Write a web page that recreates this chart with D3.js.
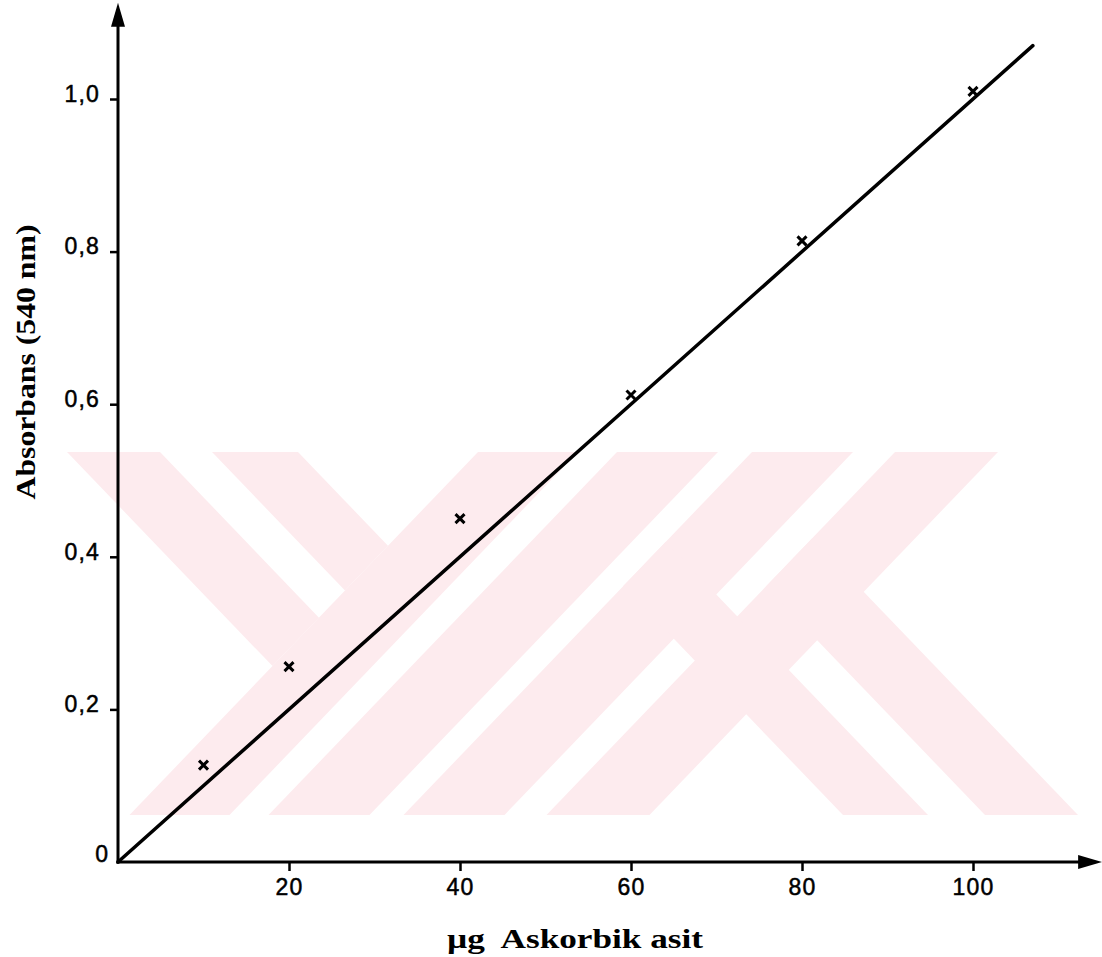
<!DOCTYPE html>
<html>
<head>
<meta charset="utf-8">
<script src="https://cdn.jsdelivr.net/npm/d3@7"></script>
<style>
  html, body { margin: 0; padding: 0; background: #ffffff; }
  svg { display: block; }
</style>
</head>
<body>
<svg id="chart" width="1102" height="957"></svg>
<script>
// ---------------- data ----------------
const xTickValues = [20, 40, 60, 80, 100];
const yTickValues = [0.2, 0.4, 0.6, 0.8, 1.0];
const yTickLabels = ["0,2", "0,4", "0,6", "0,8", "1,0"];
const originLabel = "0";

// measured points (µg ascorbic acid, absorbance at 540 nm)
const pointX = [10, 20, 40, 60, 80, 100];
const pointY = [0.127, 0.256, 0.45, 0.612, 0.814, 1.01];

// calibration line (from origin)
const lineX = [0, 107];
const lineY = [0, 1.07];

const xTitle = "µg  Askorbik asit";
const yTitle = "Absorbans (540 nm)";

const xAxisEnd = 115.1;
const yAxisEnd = 1.126;

// ---------------- layout ----------------
const svg = d3.select("#chart");
const W = 1102, H = 957;
svg.append("rect").attr("width", W).attr("height", H).attr("fill", "#ffffff");

const x = d3.scaleLinear().domain([0, 100]).range([118, 973]);
const y = d3.scaleLinear().domain([0, 1]).range([862, 99]);

// ---------------- background watermark (decorative) ----------------
const wmTop = 452, wmBot = 815, s = 0.96;
const wm = svg.append("g").attr("fill", "#fdebee");
const slashBands = [[478, 578], [617, 718], [752, 853], [895, 998]];
slashBands.forEach(([L, R]) => {
  const d = wmBot - wmTop;
  wm.append("polygon").attr("points",
    [[L, wmTop], [R, wmTop], [R - s * d, wmBot], [L - s * d, wmBot]].map(p => p.join(",")).join(" "));
});
function cutBack(L, R, C) {
  const tR = (C - R) / (2 * s), tL = (C - L) / (2 * s);
  return [[L, wmTop], [R, wmTop], [R + s * tR, wmTop + tR], [L + s * tL, wmTop + tL]];
}
[[67, 160], [212, 298]].forEach(([L, R]) => {
  wm.append("polygon").attr("points", cutBack(L, R, 478).map(p => p.join(",")).join(" "));
});
function cutUp(Lb, Rb, C) {
  const yL = (C + s * wmTop - Lb + s * wmBot) / (2 * s);
  const yR = (C + s * wmTop - Rb + s * wmBot) / (2 * s);
  return [[Lb, wmBot], [Rb, wmBot], [Rb - s * (wmBot - yR), yR], [Lb - s * (wmBot - yL), yL]];
}
wm.append("polygon").attr("points", cutUp(843, 928, 752).map(p => p.join(",")).join(" "));
wm.append("polygon").attr("points", cutUp(985, 1078, 895).map(p => p.join(",")).join(" "));

// ---------------- axes ----------------
const axisColor = "#000";
const g = svg.append("g");

g.append("line")
  .attr("x1", x(0)).attr("x2", x(0))
  .attr("y1", y(0) + 1.5).attr("y2", y(yAxisEnd) + 20)
  .attr("stroke", axisColor).attr("stroke-width", 3);
g.append("path")
  .attr("d", `M${x(0)},${y(yAxisEnd)} L${x(0) - 7},${y(yAxisEnd) + 24} L${x(0) + 7},${y(yAxisEnd) + 24} Z`)
  .attr("fill", axisColor);

g.append("line")
  .attr("x1", x(0) - 1.5).attr("x2", x(xAxisEnd) - 20)
  .attr("y1", y(0)).attr("y2", y(0))
  .attr("stroke", axisColor).attr("stroke-width", 3);
g.append("path")
  .attr("d", `M${x(xAxisEnd)},${y(0)} L${x(xAxisEnd) - 24},${y(0) - 7} L${x(xAxisEnd) - 24},${y(0) + 7} Z`)
  .attr("fill", axisColor);

const tickFont = "'Liberation Sans', Arial, sans-serif";
const tickSize = 23;

const xAxis = d3.axisBottom(x).tickValues(xTickValues).tickSize(9).tickPadding(8).tickFormat(d3.format("d"));
const xg = svg.append("g").attr("transform", `translate(0,${y(0)})`).call(xAxis);
xg.select(".domain").remove();
xg.selectAll(".tick line").attr("stroke", axisColor).attr("stroke-width", 2.5);
xg.selectAll(".tick text")
  .attr("fill", axisColor).attr("font-family", tickFont).attr("font-size", tickSize)
  .attr("letter-spacing", 1.2).attr("stroke", axisColor).attr("stroke-width", 0.5);

const yAxis = d3.axisLeft(y).tickValues(yTickValues).tickSize(8).tickPadding(10)
  .tickFormat((d, i) => yTickLabels[i]);
const yg = svg.append("g").attr("transform", `translate(${x(0)},0)`).call(yAxis);
yg.select(".domain").remove();
yg.selectAll(".tick line").attr("stroke", axisColor).attr("stroke-width", 2.5);
yg.selectAll(".tick text")
  .attr("fill", axisColor).attr("font-family", tickFont).attr("font-size", tickSize)
  .attr("letter-spacing", 1.2).attr("dy", "0.1em")
  .attr("stroke", axisColor).attr("stroke-width", 0.5);

svg.append("text")
  .attr("x", x(0) - 10).attr("y", y(0))
  .attr("text-anchor", "end")
  .attr("font-family", tickFont).attr("font-size", tickSize)
  .attr("fill", axisColor).attr("stroke", axisColor).attr("stroke-width", 0.5)
  .text(originLabel);

// ---------------- calibration line ----------------
const lineData = lineX.map((v, i) => [v, lineY[i]]);
svg.append("path")
  .datum(lineData)
  .attr("d", d3.line().x(d => x(d[0])).y(d => y(d[1])))
  .attr("fill", "none").attr("stroke", "#000").attr("stroke-width", 3.5)
  .attr("stroke-linecap", "round");

// ---------------- points (x markers) ----------------
const pts = pointX.map((v, i) => [v, pointY[i]]);
svg.append("g").selectAll("path.pt")
  .data(pts).join("path")
  .attr("class", "pt")
  .attr("transform", d => `translate(${x(d[0])},${y(d[1])})`)
  .attr("d", "M-4.5,-4.5L4.5,4.5M-4.5,4.5L4.5,-4.5")
  .attr("stroke", "#000").attr("stroke-width", 3).attr("fill", "none");

// ---------------- titles ----------------
const titleFont = "'Liberation Serif', 'Times New Roman', serif";
svg.append("text")
  .attr("x", 575).attr("y", 948)
  .attr("text-anchor", "middle")
  .style("white-space", "pre")
  .attr("font-family", titleFont).attr("font-weight", "bold").attr("font-size", 28)
  .attr("textLength", 256).attr("lengthAdjust", "spacingAndGlyphs")
  .attr("fill", "#000")
  .text(xTitle);

svg.append("text")
  .attr("transform", `translate(35,362) rotate(-90)`)
  .attr("text-anchor", "middle")
  .attr("font-family", titleFont).attr("font-weight", "bold").attr("font-size", 28)
  .attr("textLength", 275).attr("lengthAdjust", "spacingAndGlyphs")
  .attr("fill", "#000")
  .text(yTitle);
</script>
</body>
</html>
